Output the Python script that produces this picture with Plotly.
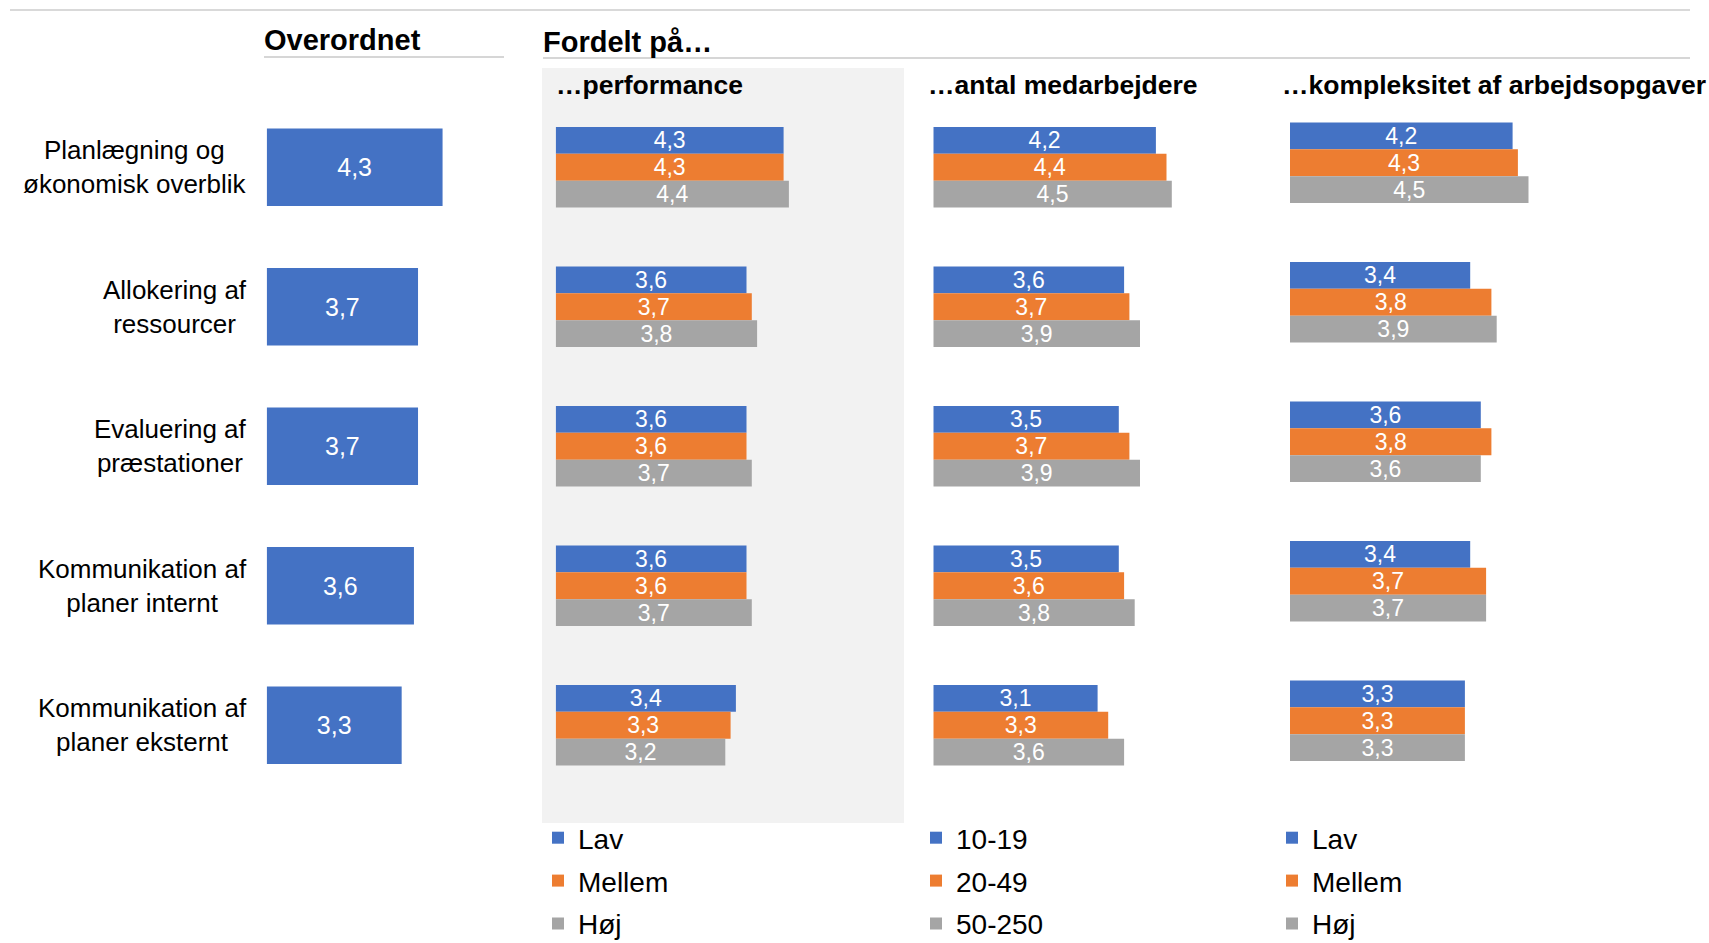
import plotly.graph_objects as go

W, H = 1709, 943

# ---- data -------------------------------------------------------------
categories = [
    "Planlægning og økonomisk overblik",
    "Allokering af ressourcer",
    "Evaluering af præstationer",
    "Kommunikation af planer internt",
    "Kommunikation af planer eksternt",
]
category_labels = [
    "Planlægning og<br>økonomisk overblik",
    "Allokering af<br>ressourcer",
    "Evaluering af<br>præstationer",
    "Kommunikation af<br>planer internt",
    "Kommunikation af<br>planer eksternt",
]

overordnet = [4.3, 3.7, 3.7, 3.6, 3.3]

performance_names = ["Lav", "Mellem", "Høj"]
performance_lav = [4.3, 3.6, 3.6, 3.6, 3.4]
performance_mellem = [4.3, 3.7, 3.6, 3.6, 3.3]
performance_hoej = [4.4, 3.8, 3.7, 3.7, 3.2]

antal_names = ["10-19", "20-49", "50-250"]
antal_10_19 = [4.2, 3.6, 3.5, 3.5, 3.1]
antal_20_49 = [4.4, 3.7, 3.7, 3.6, 3.3]
antal_50_250 = [4.5, 3.9, 3.9, 3.8, 3.6]

kompleksitet_names = ["Lav", "Mellem", "Høj"]
kompleksitet_lav = [4.2, 3.4, 3.6, 3.4, 3.3]
kompleksitet_mellem = [4.3, 3.8, 3.8, 3.7, 3.3]
kompleksitet_hoej = [4.5, 3.9, 3.6, 3.7, 3.3]

colors = ["#4472C4", "#ED7D31", "#A5A5A5"]
FONT = "Liberation Sans, Arial, Helvetica, sans-serif"


def px(x):
    return x / W


def py(y):
    return 1 - y / H


fig = go.Figure()

# ---- overall bars -----------------------------------------------------
fig.add_trace(go.Bar(
    x=overordnet, y=categories, orientation="h",
    marker=dict(color=colors[0], line=dict(width=0)),
    width=0.555,
    texttemplate="%{x:.1f}", textposition="inside", insidetextanchor="middle",
    constraintext="none",
    textfont=dict(color="white", size=25, family=FONT),
    showlegend=False, hoverinfo="skip",
    xaxis="x", yaxis="y",
))

# ---- split-by panels --------------------------------------------------
panels = [
    ("x2", "y2", performance_names, [performance_lav, performance_mellem, performance_hoej], "legend"),
    ("x3", "y3", antal_names, [antal_10_19, antal_20_49, antal_50_250], "legend2"),
    ("x4", "y4", kompleksitet_names, [kompleksitet_lav, kompleksitet_mellem, kompleksitet_hoej], "legend3"),
]
for xa, ya, names, series, leg in panels:
    for i, (name, vals) in enumerate(zip(names, series)):
        fig.add_trace(go.Bar(
            x=vals, y=categories, orientation="h", name=name,
            marker=dict(color=colors[i], line=dict(width=0)),
            texttemplate="%{x:.1f}", textposition="inside", insidetextanchor="middle",
            constraintext="none",
            textfont=dict(color="white", size=23, family=FONT),
            legend=leg, legendgroup=f"{leg}-{i}",
            hoverinfo="skip",
            xaxis=xa, yaxis=ya,
        ))

# ---- axes -------------------------------------------------------------
x_domains = {
    "xaxis": [px(266.7), px(266.7 + 40.9 * 5)],
    "xaxis2": [px(555.7), px(555.7 + 53 * 5)],
    "xaxis3": [px(933.3), px(933.3 + 53 * 5)],
    "xaxis4": [px(1290), px(1290 + 53 * 5)],
}
row_top, row_pitch = 167.3, 139.5
y_main = [py(row_top + row_pitch * 4.5), py(row_top - row_pitch * 0.5)]
y_shift = [py(row_top - 4.5 + row_pitch * 4.5), py(row_top - 4.5 - row_pitch * 0.5)]
y_domains = {"yaxis": y_main, "yaxis2": y_main, "yaxis3": y_main, "yaxis4": y_shift}

layout_axes = {}
for k, (xk, yk) in enumerate(zip(x_domains, y_domains)):
    suffix = "" if k == 0 else str(k + 1)
    layout_axes[xk] = dict(domain=x_domains[xk], range=[0, 5], visible=False,
                           anchor="y" + suffix, fixedrange=True)
    layout_axes[yk] = dict(domain=y_domains[yk], type="category",
                           categoryorder="array", categoryarray=categories,
                           range=[4.5, -0.5], visible=False,
                           anchor="x" + suffix, fixedrange=True)

# ---- decoration -------------------------------------------------------
shapes = [
    dict(type="rect", xref="paper", yref="paper", layer="below",
         x0=px(542), x1=px(904), y0=py(823), y1=py(68),
         fillcolor="#F2F2F2", line=dict(width=0)),
    dict(type="line", xref="paper", yref="paper",
         x0=px(10), x1=px(1690), y0=py(10), y1=py(10),
         line=dict(color="#D9D9D9", width=2)),
    dict(type="line", xref="paper", yref="paper",
         x0=px(264), x1=px(504), y0=py(57), y1=py(57),
         line=dict(color="#C8C8C8", width=1.5)),
    dict(type="line", xref="paper", yref="paper",
         x0=px(543), x1=px(1690), y0=py(58), y1=py(58),
         line=dict(color="#C8C8C8", width=1.5)),
]

annotations = []


def header(text, x, y, size):
    annotations.append(dict(
        text=text, xref="paper", yref="paper", x=px(x), y=py(y),
        xanchor="left", yanchor="middle", showarrow=False,
        font=dict(family=FONT, size=size, color="black", weight="bold"),
    ))


header("Overordnet", 262, 40, 29)
header("Fordelt på…", 541, 42, 29)
header("…performance", 554, 85, 26.5)
header("…antal medarbejdere", 926, 85, 26.5)
header("…kompleksitet af arbejdsopgaver", 1280, 85, 26.5)

for cat, lab in zip(categories, category_labels):
    annotations.append(dict(
        text=lab, xref="paper", yref="y", x=px(249), y=cat,
        xanchor="right", yanchor="middle", align="center", showarrow=False,
        font=dict(family=FONT, size=26, color="black"),
    ))

legend_style = dict(
    font=dict(family=FONT, size=28, color="black"),
    bgcolor="rgba(0,0,0,0)", borderwidth=0,
    xanchor="left", yanchor="top", tracegroupgap=3.5,
    itemclick=False, itemdoubleclick=False,
)

fig.update_layout(
    width=W, height=H,
    margin=dict(l=0, r=0, t=0, b=0, autoexpand=False),
    paper_bgcolor="white", plot_bgcolor="rgba(0,0,0,0)",
    barmode="group", bargap=0.422, bargroupgap=0,
    separators=", ",
    font=dict(family=FONT),
    shapes=shapes, annotations=annotations,
    legend=dict(x=px(538), y=py(813), **legend_style),
    legend2=dict(x=px(916), y=py(813), **legend_style),
    legend3=dict(x=px(1272), y=py(813), **legend_style),
    **layout_axes,
)

fig.write_html("out.html")
